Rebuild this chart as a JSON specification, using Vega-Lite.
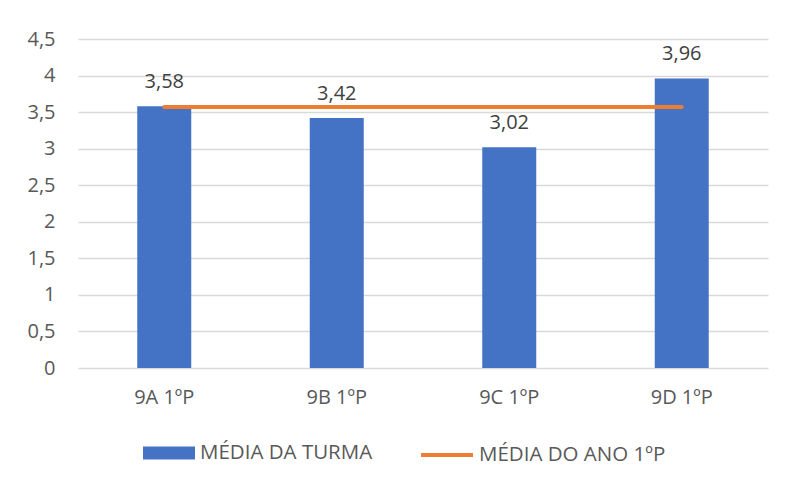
{
  "$schema": "https://vega.github.io/schema/vega-lite/v6.json",
  "width": 690,
  "height": 329,
  "autosize": "none",
  "padding": {"left": 78, "top": 39, "right": 18, "bottom": 115},
  "background": "white",
  "config": {
    "locale": {"number": {"decimal": ",", "thousands": ".", "grouping": [3], "currency": ["R$", ""]}},
    "view": {"stroke": null},
    "font": "Open Sans",
    "axisY": {
      "labelFontSize": 20, "labelColor": "#595959", "labelPadding": 23, "labelOverlap": false,
      "ticks": false, "domain": false, "gridColor": "#d9d9d9", "gridWidth": 1.5, "title": null
    },
    "legend": {"labelLimit": 400}
  },
  "data": {
    "values": [
      {"turma": "9A 1ºP", "media": 3.58, "media_ano": 3.57},
      {"turma": "9B 1ºP", "media": 3.42, "media_ano": 3.57},
      {"turma": "9C 1ºP", "media": 3.02, "media_ano": 3.57},
      {"turma": "9D 1ºP", "media": 3.96, "media_ano": 3.57}
    ]
  },
  "encoding": {
    "x": {
      "field": "turma", "type": "nominal", "sort": null,
      "scale": {"paddingInner": 0.687, "paddingOuter": 0.3435},
      "axis": {
        "title": null, "labelAngle": 0, "labelFontSize": 20, "labelColor": "#595959",
        "labelPadding": 19, "ticks": false, "domain": false, "grid": false
      }
    }
  },
  "layer": [
    {
      "mark": {"type": "bar", "stroke": null},
      "encoding": {
        "y": {
          "field": "media", "type": "quantitative",
          "scale": {"domain": [0, 4.5], "nice": false},
          "axis": {"values": [0, 0.5, 1, 1.5, 2, 2.5, 3, 3.5, 4, 4.5], "format": ".1~f", "title": null}
        },
        "fill": {
          "datum": "MÉDIA DA TURMA",
          "scale": {"range": ["#4472C4"]},
          "legend": {
            "title": null, "orient": "none", "legendX": 65, "legendY": 388,
            "symbolType": "M-1,-0.25H1V0.25H-1Z", "symbolSize": 2704,
            "symbolStrokeWidth": 0, "labelFontSize": 20.5, "labelColor": "#595959", "labelOffset": 5,
            "labelLimit": 400
          }
        }
      }
    },
    {
      "mark": {"type": "line", "strokeWidth": 4, "strokeCap": "round"},
      "encoding": {
        "y": {
          "field": "media_ano", "type": "quantitative",
          "axis": {"values": [0, 0.5, 1, 1.5, 2, 2.5, 3, 3.5, 4, 4.5], "format": ".1~f", "title": null}
        },
        "stroke": {
          "datum": "MÉDIA DO ANO 1ºP",
          "scale": {"range": ["#ED7D31"]},
          "legend": {
            "title": null, "orient": "none", "legendX": 341, "legendY": 388,
            "symbolType": "M-1,0H1", "symbolSize": 2704, "symbolStrokeWidth": 4,
            "labelFontSize": 20.5, "labelColor": "#595959", "labelOffset": 4, "labelLimit": 400
          }
        }
      }
    },
    {
      "mark": {"type": "text", "fontSize": 20, "color": "#404040", "dy": -18, "baseline": "alphabetic"},
      "encoding": {
        "y": {
          "field": "media", "type": "quantitative",
          "axis": {"values": [0, 0.5, 1, 1.5, 2, 2.5, 3, 3.5, 4, 4.5], "format": ".1~f", "title": null}
        },
        "text": {"field": "media", "type": "quantitative", "format": ".2f"}
      }
    }
  ]
}
